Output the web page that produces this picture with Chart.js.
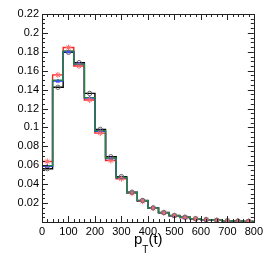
<!DOCTYPE html>
<html>
<head>
<meta charset="utf-8">
<script src="https://cdn.jsdelivr.net/npm/chart.js@4/dist/chart.umd.min.js"></script>
<style>
html,body{margin:0;padding:0;background:#fff;}
canvas{display:block;}
</style>
</head>
<body>
<canvas id="c" width="266" height="255"></canvas>
<script>
// bin edges (GeV), width 40
const binEdges = [0,40,80,120,160,200,240,280,320,360,400,440,480,520,560,600,640,680,720,760,800];
const blackVals = [0.0564,0.1425,0.1795,0.1685,0.1360,0.0980,0.0690,0.0480,0.0316,0.0228,0.0150,0.0100,0.0068,0.0050,0.0035,0.0025,0.0018,0.0013,0.0010,0.0007];
const redVals   = [0.0640,0.1556,0.1845,0.1650,0.1290,0.0940,0.0650,0.0458,0.0305,0.0220,0.0146,0.0098,0.0066,0.0048,0.0034,0.0024,0.0017,0.0012,0.0009,0.0006];
const blueVals  = [0.0590,0.1490,0.1800,0.1670,0.1310,0.0960,0.0670,0.0468,0.0310,0.0224,0.0148,0.0098,0.0066,0.0048,0.0034,0.0024,0.0017,0.0012,0.0009,0.0007];
const greenVals = [0.0596,0.1500,0.1810,0.1670,0.1315,0.0966,0.0674,0.0470,0.0312,0.0226,0.0148,0.0099,0.0067,0.0050,0.0035,0.0025,0.0018,0.0013,0.0010,0.0007];
const xTickLabels = ['0','100','200','300','400','500','600','700','800'];
const yTickLabels = ['0.02','0.04','0.06','0.08','0.1','0.12','0.14','0.16','0.18','0.2','0.22'];

function stepData(vals){
  const d=[{x:binEdges[0],y:0}];
  for(let i=0;i<vals.length;i++) d.push({x:binEdges[i],y:vals[i]});
  d.push({x:binEdges[binEdges.length-1],y:vals[vals.length-1]});
  return d;
}
function centerData(vals){
  return vals.map((v,i)=>({x:(binEdges[i]+binEdges[i+1])/2,y:v}));
}
function lineDs(vals,color,ord){
  return {type:'line',data:stepData(vals),stepped:'before',borderColor:color,borderWidth:1.4,pointRadius:0,fill:false,order:ord};
}
function markDs(vals,style,border,bg,r){
  return {type:'scatter',data:centerData(vals),pointStyle:style,pointRadius:r,borderColor:border,backgroundColor:bg,borderWidth:1,order:0};
}

const FONT='"Liberation Sans", Arial, sans-serif';
const frameTicks = {
  id:'frameTicks',
  afterDraw(chart){
    const ctx=chart.ctx, a=chart.chartArea, xs=chart.scales.x, ys=chart.scales.y;
    ctx.save();
    ctx.strokeStyle='#222'; ctx.lineWidth=1;
    ctx.strokeRect(Math.round(a.left)+0.5,Math.round(a.top)+0.5,Math.round(a.right-a.left),Math.round(a.bottom-a.top));
    ctx.beginPath();
    for(let v=0;v<=800;v+=20){
      const px=Math.round(xs.getPixelForValue(v))+0.5;
      const L=(v%100===0)?6:3;
      ctx.moveTo(px,a.bottom); ctx.lineTo(px,a.bottom-L);
      ctx.moveTo(px,a.top); ctx.lineTo(px,a.top+L);
    }
    for(let k=0;k<=44;k++){
      const v=k*0.005;
      const py=Math.round(ys.getPixelForValue(v))+0.5;
      const L=(k%4===0)?6:3;
      ctx.moveTo(a.left,py); ctx.lineTo(a.left+L,py);
      ctx.moveTo(a.right,py); ctx.lineTo(a.right-L,py);
    }
    ctx.stroke();
    // axis title p_T(t)
    ctx.fillStyle='#000';
    ctx.textBaseline='alphabetic';
    ctx.font='15px '+FONT;
    let x=134, base=244;
    ctx.fillText('p',x,base); x+=ctx.measureText('p').width;
    ctx.font='10px '+FONT;
    ctx.fillText('T',x,base+9); x+=ctx.measureText('T').width;
    ctx.font='15px '+FONT;
    ctx.fillText('(t)',x,base);
    ctx.restore();
  }
};

new Chart(document.getElementById('c'),{
  data:{datasets:[
    lineDs(blackVals,'#000000',4),
    lineDs(redVals,'#ff2020',3),
    lineDs(blueVals,'#3030ff',2),
    lineDs(greenVals,'#1f8a3a',1),
    markDs(blackVals,'circle','#666666','rgba(0,0,0,0)',2.2),
    markDs(redVals,'star','#ff6a6a','#ff6a6a',3),
    markDs(blueVals,'triangle','#4a4aff','#4a4aff',2)
  ]},
  options:{
    responsive:false, animation:false, devicePixelRatio:1,
    layout:{padding:{top:14,right:11,left:0,bottom:0}},
    plugins:{legend:{display:false},tooltip:{enabled:false}},
    scales:{
      x:{type:'linear',min:0,max:800,
        grid:{display:false,drawTicks:false},border:{display:false},
        ticks:{stepSize:100,padding:3,maxRotation:0,autoSkip:false,color:'#000',
          font:{family:FONT,size:11},
          callback:(v)=>{const i=Math.round(v/100);return xTickLabels[i]!==undefined?xTickLabels[i]:'';}},
        afterFit:(s)=>{s.height=33;}
      },
      y:{type:'linear',min:0,max:0.22,
        grid:{display:false,drawTicks:false},border:{display:false},
        ticks:{stepSize:0.02,padding:3,autoSkip:false,color:'#000',
          font:{family:FONT,size:11},
          callback:(v)=>{const i=Math.round(v/0.02);return i>=1?yTickLabels[i-1]:'';}},
        afterFit:(s)=>{s.width=42;}
      }
    }
  },
  plugins:[frameTicks]
});
</script>
</body>
</html>
